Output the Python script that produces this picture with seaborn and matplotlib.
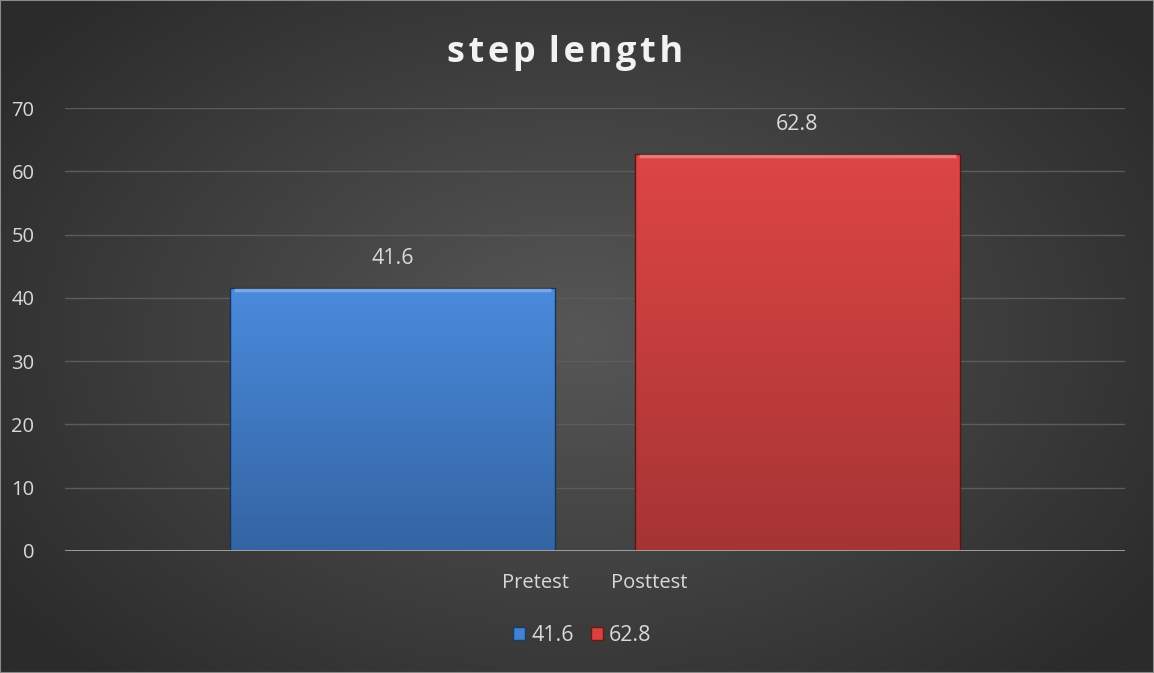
import numpy as np
import pandas as pd
import matplotlib
matplotlib.use("Agg")
import matplotlib.pyplot as plt
import seaborn as sns

# INPUT
categories = ["Pretest        Posttest"]
series_names = ["41.6", "62.8"]
values = [41.6, 62.8]
colors = ["#4281d3", "#d64240"]
tops = ["#4a8bdc", "#dd4644"]
bottoms = ["#3464a3", "#a63434"]
title = "step length"

df = pd.DataFrame({
    "cat": categories * len(series_names),
    "series": series_names,
    "value": values,
})

sns.set_theme(style="dark")
plt.rcParams["font.family"] = ["Open Sans", "DejaVu Sans"]

fig = plt.figure(figsize=(11.54, 6.73), dpi=100)

# radial background
bg = fig.add_axes([0, 0, 1, 1], zorder=-10)
yy, xx = np.mgrid[-1:1:300j, -1:1:500j]
r = np.sqrt(xx**2 * 0.8 + yy**2 * 0.6)
bg.imshow(r, cmap=sns.blend_palette(["#575757", "#2b2b2b"], as_cmap=True),
          aspect="auto", extent=[0, 1, 0, 1], vmin=0, vmax=1.1)
bg.axis("off")

ax = fig.add_axes([65 / 1154, 1 - 551 / 673, 1060 / 1154, 443 / 673])
ax.patch.set_alpha(0)
sns.barplot(data=df, x="cat", y="value", hue="series", palette=colors,
            width=0.764, gap=0.1975, ax=ax, legend=True, saturation=1)

ax.set_ylim(0, 70)
ax.set_xlim(-0.5, 0.5)
ax.set_yticks(range(0, 71, 10))
ax.yaxis.grid(True, color="#5c5c5c", linewidth=1)
ax.xaxis.grid(False)
for s in ax.spines.values():
    s.set_visible(False)
ax.axhline(0, color="#a6a6a6", linewidth=2, zorder=5)
ax.tick_params(axis="y", colors="#d9d9d9", labelsize=14.5, length=0, pad=22)
ax.tick_params(axis="x", colors="#d9d9d9", labelsize=14.5, length=0, pad=16)
ax.set_xlabel("")
ax.set_ylabel("")

# bar shading and labels
for p, c, ct, cb in zip(ax.patches[:len(values)], colors, tops, bottoms):
    x0, w, h = p.get_x(), p.get_width(), p.get_height()
    cmap = sns.blend_palette([cb, ct], as_cmap=True)
    grad = np.linspace(0, 1, 256).reshape(-1, 1)
    im = ax.imshow(grad, cmap=cmap, aspect="auto", extent=[x0, x0 + w, 0, h],
                   origin="lower", zorder=2)
    im.set_clip_path(p)
    p.set_edgecolor(sns.set_hls_values(c, l=0.22))
    p.set_linewidth(1)
    p.set_zorder(3)
    p.set_facecolor("none")
    ax.plot([x0 + 0.004, x0 + w - 0.004], [h - 0.35, h - 0.35],
            color=sns.set_hls_values(c, l=0.72), linewidth=2.5, zorder=4,
            alpha=0.8, solid_capstyle="butt")
    ax.text(x0 + w / 2, h + 3.0, f"{h:.1f}", ha="center", va="bottom",
            color="#d9d9d9", fontsize=15.5)

ax.set_xlim(-0.5, 0.5)
ax.set_ylim(0, 70)

leg = ax.legend(loc="center", bbox_to_anchor=(0.488, -0.19), ncol=2, frameon=False,
                fontsize=15.5, handlelength=0.55, handleheight=0.55,
                handletextpad=0.3, columnspacing=0.8)
for t in leg.get_texts():
    t.set_color("#d9d9d9")
for hnd, c in zip(leg.legend_handles, colors):
    hnd.set_facecolor(c)
    hnd.set_edgecolor(sns.set_hls_values(c, l=0.25))

spaced = "\u200a".join(title).replace("\u200a \u200a", " \u200a")
fig.text(0.49, 1 - 53 / 673, spaced, ha="center", va="center", fontsize=26,
         fontweight="bold", color="#f2f2f2")

# thin frame
fig.add_artist(plt.Rectangle((0, 0), 1, 1, transform=fig.transFigure,
                             fill=False, edgecolor="#8a8a8a", linewidth=1.5))

fig.savefig("out.png", dpi=100)
